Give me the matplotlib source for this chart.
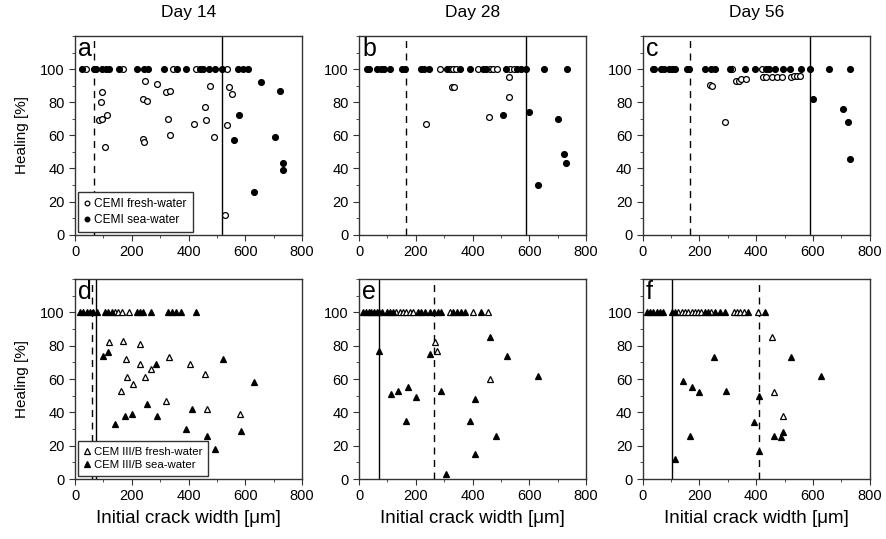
import numpy as np
import matplotlib.pyplot as plt
from matplotlib.ticker import MultipleLocator

plt.rcParams['font.family'] = ['Liberation Sans', 'DejaVu Sans']

# ---- data (crack width in um, healing in %) ----
# a: CEMI, day 14
a_fresh_x = [39, 170, 345, 427, 535, 94, 91, 85, 96, 111, 105, 246, 240, 254, 290, 320, 334,
             328, 336, 240, 243, 420, 458, 461, 477, 489, 541, 554, 536, 530]
a_fresh_y = [100, 100, 100, 100, 100, 86, 80, 69, 70, 72, 53, 93, 82, 81, 91, 86, 87,
             70, 60, 58, 56, 67, 77, 69, 90, 59, 89, 85, 66, 12]
a_sea_x = [23, 67, 74, 94, 109, 121, 155, 219, 242, 258, 314, 361, 392, 441, 451, 472, 494,
           518, 574, 591, 609, 655, 724, 578, 560, 704, 733, 733, 632]
a_sea_y = [100, 100, 100, 100, 100, 100, 100, 100, 100, 100, 100, 100, 100, 100, 100, 100, 100,
           100, 100, 100, 100, 92, 87, 72, 57, 59, 43, 39, 26]

# b: CEMI, day 28
b_fresh_x = [285, 322, 331, 341, 419, 460, 472, 486, 533, 545, 329, 336, 528, 528, 458, 237]
b_fresh_y = [100, 100, 100, 100, 100, 100, 100, 100, 100, 100, 89, 89, 95, 83, 71, 67]
b_sea_x = [29, 36, 64, 76, 88, 109, 150, 162, 217, 228, 245, 310, 355, 392, 437, 448, 519,
           557, 571, 589, 651, 732, 507, 598, 701, 721, 730, 630]
b_sea_y = [100, 100, 100, 100, 100, 100, 100, 100, 100, 100, 100, 100, 100, 100, 100, 100, 100,
           100, 100, 100, 100, 100, 72, 74, 70, 49, 43, 30]

# c: CEMI, day 56
c_fresh_x = [40, 316, 422, 237, 244, 330, 338, 348, 365, 424, 436, 457, 473, 491, 521, 533,
             544, 556, 289]
c_fresh_y = [100, 100, 100, 90.5, 90, 93, 93, 94, 94, 95, 95, 95, 95, 95, 95, 96,
             96, 96, 68]
c_sea_x = [35, 63, 75, 94, 105, 114, 155, 164, 221, 242, 254, 307, 361, 395, 436, 445, 468,
           496, 520, 559, 588, 655, 732, 600, 705, 724, 732]
c_sea_y = [100, 100, 100, 100, 100, 100, 100, 100, 100, 100, 100, 100, 100, 100, 100, 100, 100,
           100, 100, 100, 100, 100, 100, 82, 76, 68, 46]

# d: CEM III/B, day 14
d_fresh_x = [141, 152, 164, 191, 119, 170, 228, 179, 228, 331, 266, 406, 457, 183, 248, 205,
             162, 322, 464, 583]
d_fresh_y = [100, 100, 100, 100, 82, 83, 81, 72, 69, 73, 66, 69, 63, 61, 61, 57,
             53, 47, 42, 39]
d_sea_x = [18, 29, 41, 53, 64, 76, 105, 117, 129, 217, 228, 238, 269, 328, 340, 355, 375, 427,
           100, 117, 287, 521, 630, 254, 412, 201, 176, 289, 585, 392, 140, 464, 492]
d_sea_y = [100, 100, 100, 100, 100, 100, 100, 100, 100, 100, 100, 100, 100, 100, 100, 100, 100, 100,
           74, 76, 69, 72, 58, 45, 42, 39, 38, 38, 29, 30, 33, 26, 18]

# e: CEM III/B, day 28
e_fresh_x = [132, 144, 156, 167, 179, 191, 320, 402, 454, 268, 275, 463]
e_fresh_y = [100, 100, 100, 100, 100, 100, 100, 100, 100, 82, 77, 60]
e_sea_x = [15, 25, 34, 43, 53, 62, 71, 81, 97, 109, 121, 208, 220, 232, 249, 263, 279, 288,
           331, 345, 361, 374, 431, 71, 249, 463, 522, 630, 112, 139, 173, 201, 288, 410,
           164, 391, 484, 410, 308]
e_sea_y = [100, 100, 100, 100, 100, 100, 100, 100, 100, 100, 100, 100, 100, 100, 100, 100, 100, 100,
           100, 100, 100, 100, 100, 77, 75, 85, 74, 62, 51, 53, 55, 49, 53, 48,
           35, 35, 26, 15, 3]

# f: CEM III/B, day 56
f_fresh_x = [125, 137, 149, 160, 172, 184, 196, 207, 242, 321, 333, 344, 358, 406, 457, 462, 495]
f_fresh_y = [100, 100, 100, 100, 100, 100, 100, 100, 100, 100, 100, 100, 100, 100, 85, 52, 38]
f_sea_x = [14, 26, 37, 49, 61, 73, 102, 114, 219, 231, 254, 272, 289, 372, 430,
           253, 521, 630, 143, 175, 200, 292, 411, 392, 166, 463, 495, 486, 411, 115]
f_sea_y = [100, 100, 100, 100, 100, 100, 100, 100, 100, 100, 100, 100, 100, 100, 100,
           73, 73, 62, 59, 55, 52, 53, 50, 34, 26, 26, 28, 25, 17, 12]

# reference lines (dashed, solid)
dashed_x = [68, 165, 166, 60, 265, 409]
solid_x = [519, 589, 590, 74, 69, 102]

letters = ['a', 'b', 'c', 'd', 'e', 'f']
days = ['Day 14', 'Day 28', 'Day 56']

fresh = [(a_fresh_x, a_fresh_y), (b_fresh_x, b_fresh_y), (c_fresh_x, c_fresh_y),
         (d_fresh_x, d_fresh_y), (e_fresh_x, e_fresh_y), (f_fresh_x, f_fresh_y)]
sea = [(a_sea_x, a_sea_y), (b_sea_x, b_sea_y), (c_sea_x, c_sea_y),
       (d_sea_x, d_sea_y), (e_sea_x, e_sea_y), (f_sea_x, f_sea_y)]

fig = plt.figure(figsize=(8.86, 5.39), dpi=100)
lefts = [0.0847, 0.4052, 0.7254]
bottoms = [0.5646, 0.1113]
heights = [0.3687, 0.371]
w = 0.2562

for i in range(6):
    row, col = divmod(i, 3)
    ax = fig.add_axes([lefts[col], bottoms[row], w, heights[row]])
    if row == 0:
        mk, ms, lab = 'o', 4.2, 'CEMI'
    else:
        mk, ms, lab = '^', 4.7, 'CEM III/B'
    ax.axvline(dashed_x[i], color='k', lw=1, ls=(0, (5, 4)), zorder=1)
    ax.axvline(solid_x[i], color='k', lw=1, zorder=1)
    ax.plot(fresh[i][0], fresh[i][1], ls='none', marker=mk, ms=ms, mfc='white',
            mec='k', mew=0.9, label=lab + ' fresh-water', zorder=3)
    ax.plot(sea[i][0], sea[i][1], ls='none', marker=mk, ms=ms, mfc='k',
            mec='k', mew=0.9, label=lab + ' sea-water', zorder=4)
    ax.set_xlim(0, 800)
    ax.set_ylim(0, 120)
    ax.set_xticks([0, 200, 400, 600, 800])
    ax.set_yticks([0, 20, 40, 60, 80, 100])
    ax.xaxis.set_minor_locator(MultipleLocator(100))
    ax.yaxis.set_minor_locator(MultipleLocator(10))
    ax.tick_params(which='both', direction='out', labelsize=10.5, color='#333333')
    ax.tick_params(which='major', length=4)
    ax.tick_params(which='minor', length=2.5)
    for s in ax.spines.values():
        s.set_color('#333333')
        s.set_linewidth(1)
    ax.text(0.015, 0.995, letters[i], transform=ax.transAxes, va='top', ha='left',
            fontsize=18)
    if col == 0:
        ax.set_ylabel('Healing [%]', fontsize=11, labelpad=8)
        leg = ax.legend(loc='lower left', bbox_to_anchor=(0.012, 0.015), borderaxespad=0,
                        fontsize=8.6 if row == 0 else 8.2, handlelength=0.6,
                        handletextpad=0.3, markerscale=0.8, fancybox=False,
                        edgecolor='#333333', framealpha=1, borderpad=0.5,
                        labelspacing=0.3)
        leg.get_frame().set_linewidth(1)
    if row == 0:
        ax.set_title(days[col], fontsize=12.5, pad=14)
    else:
        ax.set_xlabel('Initial crack width [μm]', fontsize=13.5, labelpad=5)

fig.savefig('out.png', dpi=100)
